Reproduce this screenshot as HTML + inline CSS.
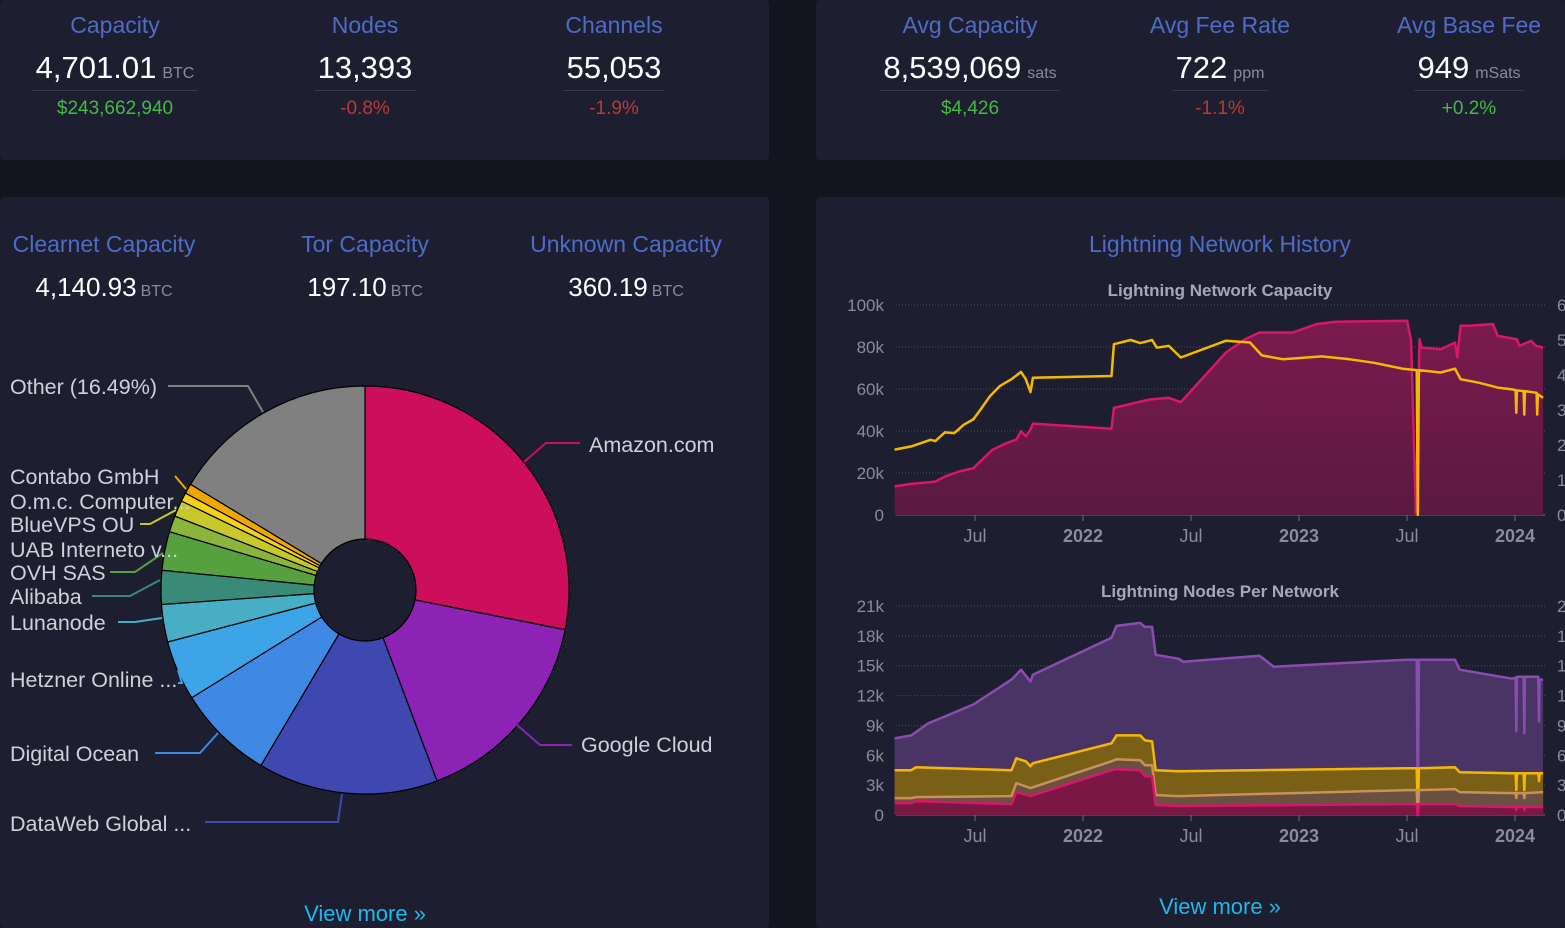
<!DOCTYPE html>
<html><head><meta charset="utf-8">
<style>
body{margin:0;width:1565px;height:928px;background:#13141f;font-family:"Liberation Sans",sans-serif;overflow:hidden;position:relative}
.panel{position:absolute;background:#1d1f31;border-radius:4px}
.t{position:absolute;transform:translateX(-50%);white-space:nowrap;text-align:center}
.title{color:#4f6bc8;font-size:23px}
.val{color:#fff;font-size:31px;padding:0 3px 4px;border-bottom:1px solid #3a3c50}
.val small{font-size:16px;color:#8a8a9a;margin-left:6px}
.val2{color:#fff;font-size:26px}
.val2 small{font-size:16px;color:#8a8a9a;margin-left:4px}
.g{color:#44b944;font-size:19px}.r{color:#b83a3a;font-size:19px}
.vm{color:#1fb8e8;font-size:22px}
svg text{font-family:"Liberation Sans",sans-serif}
</style></head><body>
<div class="panel" style="left:0;top:0;width:769px;height:160px"></div>
<div class="panel" style="left:816px;top:0;width:749px;height:160px"></div>
<div class="panel" style="left:0;top:197px;width:769px;height:731px"></div>
<div class="panel" style="left:816px;top:197px;width:749px;height:731px"></div>

<div class="t title" style="left:115px;top:12px">Capacity</div>
<div class="t val" style="left:115px;top:50px">4,701.01<small>BTC</small></div>
<div class="t g" style="left:115px;top:98px">$243,662,940</div>
<div class="t title" style="left:365px;top:12px">Nodes</div>
<div class="t val" style="left:365px;top:50px">13,393</div>
<div class="t r" style="left:365px;top:98px">-0.8%</div>
<div class="t title" style="left:614px;top:12px">Channels</div>
<div class="t val" style="left:614px;top:50px">55,053</div>
<div class="t r" style="left:614px;top:98px">-1.9%</div>
<div class="t title" style="left:970px;top:12px">Avg Capacity</div>
<div class="t val" style="left:970px;top:50px">8,539,069<small>sats</small></div>
<div class="t g" style="left:970px;top:98px">$4,426</div>
<div class="t title" style="left:1220px;top:12px">Avg Fee Rate</div>
<div class="t val" style="left:1220px;top:50px">722<small>ppm</small></div>
<div class="t r" style="left:1220px;top:98px">-1.1%</div>
<div class="t title" style="left:1469px;top:12px">Avg Base Fee</div>
<div class="t val" style="left:1469px;top:50px">949<small>mSats</small></div>
<div class="t g" style="left:1469px;top:98px">+0.2%</div>

<div class="t title" style="left:104px;top:231px">Clearnet Capacity</div>
<div class="t val2" style="left:104px;top:272px">4,140.93<small>BTC</small></div>
<div class="t title" style="left:365px;top:231px">Tor Capacity</div>
<div class="t val2" style="left:365px;top:272px">197.10<small>BTC</small></div>
<div class="t title" style="left:626px;top:231px">Unknown Capacity</div>
<div class="t val2" style="left:626px;top:272px">360.19<small>BTC</small></div>
<div class="t title" style="left:1220px;top:231px">Lightning Network History</div>
<div class="t vm" style="left:365px;top:901px">View more »</div>
<div class="t vm" style="left:1220px;top:894px">View more »</div>

<svg id="pie" style="position:absolute;left:0;top:0" width="769" height="928"></svg>
<svg id="ch" style="position:absolute;left:0;top:0" width="1565" height="928"></svg>

<script>
// ---- Pie data ----
const ispNames=["Amazon.com","Google Cloud","DataWeb Global ...","Digital Ocean","Hetzner Online ...","Lunanode","Alibaba","OVH SAS","UAB Interneto v...","BlueVPS OU","O.m.c. Computer...","Contabo GmbH","Other (16.49%)"];
const ispShares=[28.4,16.3,14.4,7.7,4.8,3.0,2.7,3.1,1.3,1.3,0.7,0.8,16.49];
const ispColors=["#cc0e5c","#8c23b5","#3f48b0","#3f88e3","#3da4e8","#48aec4","#3a8a78","#56a040","#8ab53a","#c8c82a","#f5d21a","#f0a800","#808080"];

const NS="http://www.w3.org/2000/svg";
function mk(p,tag,at){const e=document.createElementNS(NS,tag);for(const k in at)e.setAttribute(k,at[k]);p.appendChild(e);return e;}
const pie=document.getElementById('pie');
const cx=365,cy=590,R=204,r0=51;
const tot=ispShares.reduce((a,b)=>a+b,0);
let a0=0;
ispShares.forEach((v,i)=>{
  const a1=a0+v/tot*2*Math.PI;
  const p=(a,rr)=>[cx+rr*Math.sin(a),cy-rr*Math.cos(a)];
  const [x0,y0]=p(a0,R),[x1,y1]=p(a1,R);
  const lg=(a1-a0)>Math.PI?1:0;
  const s=mk(pie,'path',{d:`M${cx},${cy}L${x0},${y0}A${R},${R} 0 ${lg} 1 ${x1},${y1}Z`,fill:ispColors[i],stroke:'#000','stroke-width':1.2});
  
  
  a0=a1;
});
const hole=mk(pie,'circle',{cx:cx,cy:cy,r:r0,fill:'#1d1f31',stroke:'#000','stroke-width':1.2});


const lbl=[
 [589,452,'start','580,443 546,443 524,462',0],
 [581,752,'start','572,745 540,745 517,725',1],
 [10,831,'start','205,822 338,822 342,794',2],
 [10,761,'start','155,753 200,753 218,733',3],
 [10,687,'start','178,683 182,683 178,670',4],
 [10,630,'start','118,622 135,622 162,618',5],
 [10,604,'start','92,596 130,596 160,580',6],
 [10,580,'start','110,572 135,572 163,553',7],
 [10,557,'start','',8],
 [10,532,'start','140,524 150,524 176,510',9],
 [10,509,'start','',10],
 [10,484,'start','175,476 186,489',11],
 [10,394,'start','168,386 248,386 263,412',12]
];
lbl.forEach(l=>{
  if(l[3]){const pl=mk(pie,'polyline',{points:l[3],fill:'none',stroke:ispColors[l[4]],'stroke-width':2});
  
  }
  const t=mk(pie,'text',{x:l[0],y:l[1],'text-anchor':l[2],fill:'#d0d0d8','font-size':21.5});
  t.textContent=ispNames[l[4]];
  
  
});

// ---- Capacity chart data ----
const capDates=[2021.128,2021.205,2021.316,2021.360,2021.426,2021.492,2021.525,2021.581,2021.647,2021.691,2021.713,2021.735,2021.757,2021.768,2022.132,2022.143,2022.309,2022.397,2022.453,2022.662,2022.751,2022.817,2022.971,2023.082,2023.170,2023.501,2023.519,2023.541,2023.558,2023.567,2023.656,2023.722,2023.733,2023.748,2023.788,2023.898,2023.920,2024.009,2024.020,2024.075,2024.097,2024.130];
const channelsK=[13.6,14.8,15.9,18.3,20.7,22.3,25.5,31.1,34.3,35.9,39.9,37.5,40.7,43.5,41.1,51.0,55.0,55.8,53.7,77.4,83.7,86.9,86.9,90.9,92.0,92.5,82.9,0.8,83.7,79.7,78.9,82.1,75.0,90.1,90.1,90.9,85.3,83.7,80.5,82.9,80.5,79.7];
const btcDates=[2021.128,2021.205,2021.294,2021.316,2021.360,2021.404,2021.448,2021.492,2021.525,2021.570,2021.614,2021.669,2021.713,2021.735,2021.757,2021.768,2022.132,2022.143,2022.221,2022.265,2022.320,2022.342,2022.397,2022.453,2022.662,2022.773,2022.828,2022.927,2023.104,2023.236,2023.347,2023.479,2023.545,2023.550,2023.555,2023.656,2023.722,2023.748,2023.832,2023.920,2023.987,2024.003,2024.006,2024.009,2024.040,2024.043,2024.046,2024.100,2024.103,2024.106,2024.130];
const capBtcK=[1.87,1.96,2.15,2.11,2.36,2.34,2.58,2.73,3.01,3.40,3.68,3.88,4.09,3.88,3.51,3.92,3.97,4.88,5.00,4.91,5.00,4.78,4.83,4.50,4.98,4.93,4.56,4.45,4.53,4.45,4.35,4.18,4.14,0,4.14,4.07,4.18,3.88,3.78,3.64,3.59,3.57,2.92,3.56,3.54,2.87,3.54,3.49,2.87,3.45,3.35];
const capLeftTicks=["0","20k","40k","60k","80k","100k"];
const capRightTicks=["0","1","2","3","4","5","6"];
const xTickDates=[2021.5,2022,2022.5,2023,2023.5,2024];
const xTickLabels=["Jul","2022","Jul","2023","Jul","2024"];

// ---- Nodes chart data (stacked tops) ----
const nTotDates=[2021.128,2021.205,2021.283,2021.360,2021.492,2021.669,2021.713,2021.757,2021.768,2022.132,2022.155,2022.265,2022.287,2022.320,2022.336,2022.442,2022.464,2022.817,2022.883,2023.501,2023.545,2023.550,2023.555,2023.722,2023.744,2023.987,2024.003,2024.006,2024.009,2024.040,2024.043,2024.046,2024.108,2024.111,2024.114,2024.130];
const nodesTotalK=[7.7,8.0,9.2,9.9,11.1,13.6,14.6,13.4,14.1,17.8,19.0,19.3,18.9,18.9,16.1,15.7,15.4,16.0,14.9,15.6,15.6,0,15.6,15.6,14.6,13.7,13.8,8.4,13.9,13.9,8.2,13.9,13.9,9.4,13.6,13.6];
const nTorDates=[2021.128,2021.205,2021.227,2021.669,2021.691,2021.735,2021.757,2021.768,2022.132,2022.155,2022.265,2022.287,2022.320,2022.336,2022.442,2023.501,2023.545,2023.550,2023.555,2023.722,2023.744,2023.987,2024.003,2024.006,2024.009,2024.040,2024.043,2024.046,2024.108,2024.111,2024.114,2024.130];
const nodesTorTopK=[4.5,4.5,4.8,4.5,5.7,5.4,4.9,5.2,7.2,8.0,8.0,7.5,7.4,4.5,4.4,4.7,4.7,0,4.7,4.8,4.3,4.2,4.2,2.5,4.2,4.2,2.5,4.2,4.2,3.4,4.2,4.2];
const nMidDates=[2021.128,2021.205,2021.227,2021.669,2021.691,2021.757,2022.132,2022.155,2022.265,2022.287,2022.320,2022.336,2022.442,2023.501,2023.545,2023.550,2023.555,2023.722,2023.744,2023.987,2024.003,2024.006,2024.009,2024.040,2024.043,2024.046,2024.130];
const nodesMixedTopK=[1.7,1.7,1.8,1.9,3.2,2.7,5.4,5.6,5.5,5.0,5.0,2.0,1.9,2.5,2.5,0,2.5,2.6,2.3,2.2,2.2,1.7,2.2,2.2,1.7,2.2,2.3];
const nodesClearTopK=[1.2,1.2,1.4,1.1,2.3,1.9,4.5,4.6,4.5,3.9,3.9,1.0,0.9,1.1,1.1,0,1.1,1.1,0.9,0.8,0.8,0.5,0.8,0.8,0.5,0.8,0.8];
const nodeLeftTicks=["0","3k","6k","9k","12k","15k","18k","21k"];
const nodeRightTicks=["0","3","6","9","12","15","18","21"];

const ch=document.getElementById('ch');
const X0=896,X1=1545;
const xs=d=>1083+(d-2022)*216;
function axis(top,bot,title,left,right){
  const tt=mk(ch,'text',{x:1220,y:top-9,'text-anchor':'middle',fill:'#a8a8b4','font-size':17,'font-weight':'bold'});
  tt.textContent=title;
  
  
  left.forEach((l,i)=>{
    const y=bot-(bot-top)*i/(left.length-1);
    if(i>0){const g=mk(ch,'line',{x1:X0,x2:X1,y1:y,y2:y,stroke:'#4a4c5e','stroke-dasharray':'1,2'});
    
    }
    const t=mk(ch,'text',{x:884,y:y+6,'text-anchor':'end',fill:'#8a8c98','font-size':17});t.textContent=l;
    
    
  });
  right.forEach((l,i)=>{
    const y=bot-(bot-top)*i/(right.length-1);
    const t=mk(ch,'text',{x:1557,y:y+6,fill:'#8a8c98','font-size':17});t.textContent=l;
    
    
  });
  const ax=mk(ch,'line',{x1:X0,x2:X1,y1:bot,y2:bot,stroke:'#6a6c7a'});
  
  
  xTickDates.forEach((d,i)=>{
    const x=xs(d);
    const tk=mk(ch,'line',{x1:x,x2:x,y1:bot,y2:bot+6,stroke:'#6a6c7a'});
    
    
    const t=mk(ch,'text',{x:x,y:bot+27,'text-anchor':'middle',fill:'#8a8c98','font-size':18,'font-weight':i%2?'bold':'normal'});t.textContent=xTickLabels[i];
    
    
  });
}
function pts(dates,vals,ys){return dates.map((d,i)=>xs(d).toFixed(1)+','+ys(vals[i]).toFixed(1));}
function area(dates,vals,ys,bot,fill,stroke,name){
  const p=pts(dates,vals,ys);
  const a=mk(ch,'path',{d:'M'+xs(dates[0])+','+bot+'L'+p.join('L')+'L'+xs(dates[dates.length-1])+','+bot+'Z',fill:fill});
  
  
  const l=mk(ch,'polyline',{points:p.join(' '),fill:'none',stroke:stroke,'stroke-width':2.5,'stroke-linejoin':'round'});
  
  
}
const defs=mk(ch,'defs',{});
const gr=mk(defs,'linearGradient',{id:'pg',x1:0,y1:0,x2:0,y2:1});
mk(gr,'stop',{offset:0,'stop-color':'#7c1a4e'});mk(gr,'stop',{offset:1,'stop-color':'#5a1a40'});

const cT=305,cB=515;
axis(cT,cB,'Lightning Network Capacity',capLeftTicks,capRightTicks);
const ysC=v=>cB-(cB-cT)*v/100;
const ysB=v=>cB-(cB-cT)*v/6;
area(capDates,channelsK,ysC,cB,'url(#pg)','#d8166a','channels');
const yl=mk(ch,'polyline',{points:pts(btcDates,capBtcK,ysB).join(' '),fill:'none',stroke:'#f5b800','stroke-width':2.5,'stroke-linejoin':'round'});



const nT=606,nB=815;
axis(nT,nB,'Lightning Nodes Per Network',nodeLeftTicks,nodeRightTicks);
const ysN=v=>nB-(nB-nT)*v/21;
area(nTotDates,nodesTotalK,ysN,nB,'#4a3466','#8a4cb0','unknown-nodes');
area(nTorDates,nodesTorTopK,ysN,nB,'#7a6016','#f5b800','tor-nodes');
area(nMidDates,nodesMixedTopK,ysN,nB,'#6a5040','#c8905a','clearnet-tor-nodes');
area(nMidDates,nodesClearTopK,ysN,nB,'#7a1845','#d8166a','clearnet-nodes');
</script>
</body></html>
